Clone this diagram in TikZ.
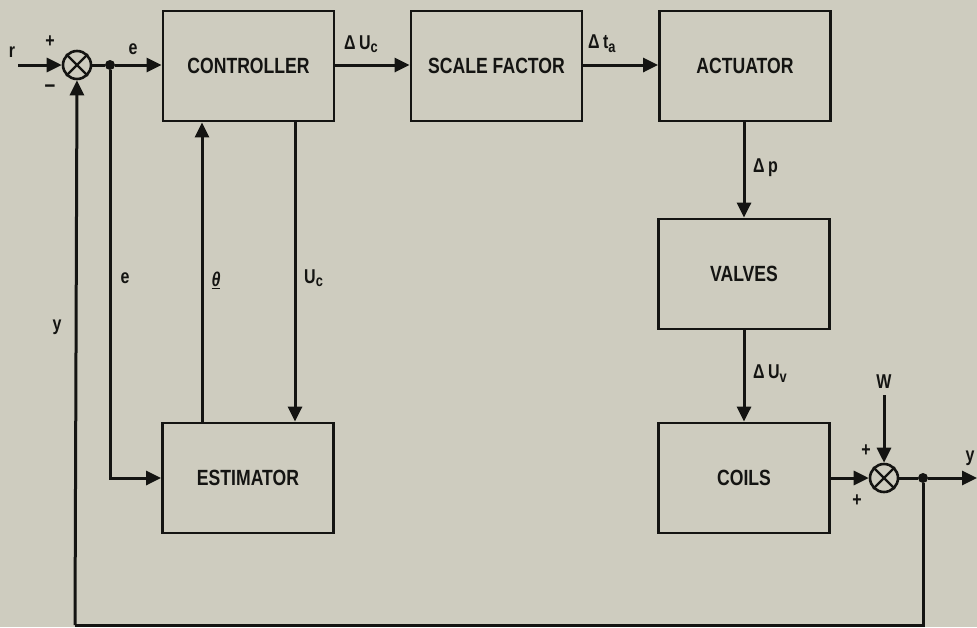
\documentclass[tikz,border=0pt]{standalone}
\usepackage{fontspec}
\setmainfont{Liberation Sans}[FakeStretch=0.8]
\usetikzlibrary{arrows.meta}
\definecolor{paper}{RGB}{206,204,191}
\definecolor{ink}{RGB}{20,20,18}
\tikzset{
  blk/.style={draw=ink, line width=2.8pt, minimum width=171pt, minimum height=110pt, inner sep=0pt, font=\fontsize{22}{24}\selectfont\bfseries, text=ink},
  sumj/.style={draw=ink, line width=2.6pt, circle, minimum size=28pt, inner sep=0pt},
  wire/.style={draw=ink, line width=3pt},
  arr/.style={wire, -{Triangle[length=15pt,width=14pt]}},
  lbl/.style={font=\fontsize{20}{22}\selectfont\bfseries, text=ink, inner sep=0pt},
  dot/.style={circle, fill=ink, minimum size=10pt, inner sep=0pt}
}
\begin{document}
\begin{tikzpicture}[x=1pt,y=-1pt]
\fill[paper] (0,0) rectangle (977,627);
\useasboundingbox (0,0) rectangle (977,627);
% blocks
\node[blk] (ctrl) at (248.5,66) {CONTROLLER};
\node[blk] (scale) at (496.5,66) {SCALE FACTOR};
\node[blk] (act) at (745,66) {ACTUATOR};
\node[blk] (valv) at (744,274) {VALVES};
\node[blk] (coil) at (744,478) {COILS};
\node[blk] (est) at (248,478) {ESTIMATOR};
% summing junctions
\node[sumj] (s1) at (77,65) {};
\draw[ink, line width=2.4pt] (s1.north west) -- (s1.south east) (s1.north east) -- (s1.south west);
\node[sumj] (s2) at (884,478) {};
\draw[ink, line width=2.4pt] (s2.north west) -- (s2.south east) (s2.north east) -- (s2.south west);
% coordinates
\coordinate (rin) at (18,65);
\node[dot] (d1) at (110,65) {};
\node[dot] (d2) at (923,478) {};
\coordinate (yout) at (977,478);
\coordinate (win) at (884,395);
\coordinate (bl) at (75,625);
\coordinate (br) at (923,625);
\coordinate (ee) at (110,478);
% connectors
\draw[arr] (rin) -- (s1.west);
\draw[wire] (s1.east) -- (d1);
\draw[arr] (d1) -- (ctrl.west |- d1);
\draw[arr] (ctrl.east |- 0,65) -- (scale.west |- 0,65);
\draw[arr] (scale.east |- 0,65) -- (act.west |- 0,65);
\draw[arr] (act.south -| 744,0) -- (valv.north);
\draw[arr] (valv.south) -- (coil.north);
\draw[arr] (coil.east) -- (s2.west);
\draw[arr] (win) -- (s2.north);
\draw[wire] (s2.east) -- (d2);
\draw[arr] (d2) -- (yout);
\draw[wire] (d2) -- (br) -- (bl);
\draw[arr] (bl) -- (s1.south);
\draw[arr] (d1) -- (ee) -- (est.west);
\draw[arr] (est.north -| 202,0) -- (ctrl.south -| 202,0);
\draw[arr] (ctrl.south -| 295,0) -- (est.north -| 295,0);
% labels
\node[lbl] (lr) at (12,52) {r};
\node[lbl] (lp1) at (50,42) {+};
\node[lbl] (lm1) at (50,89) {\fontsize{24}{24}\selectfont –};
\node[lbl] (le1) at (133,49) {e};
\node[lbl, anchor=west] (ldu) at (344,44) {Δ\,U\raisebox{-3pt}{\fontsize{16}{16}\selectfont c}};
\node[lbl, anchor=west] (ldt) at (588,44) {Δ\,t\raisebox{-4pt}{\fontsize{16}{16}\selectfont a}};
\node[lbl, anchor=west] (ldp) at (753,168) {Δ\,p};
\node[lbl, anchor=west] (ldv) at (753,374) {Δ\,U\raisebox{-4pt}{\fontsize{16}{16}\selectfont v}};
\node[lbl] (lw) at (884,382) {W};
\node[lbl] (lp2) at (866,451) {+};
\node[lbl] (lp3) at (857,501) {+};
\node[lbl] (le2) at (125,278) {e};
\node[lbl] (lth) at (216,280) {\underline{\itshape θ}};
\node[lbl, anchor=west] (luc) at (304,278) {U\raisebox{-3pt}{\fontsize{16}{16}\selectfont c}};
\node[lbl] (ly) at (57,327) {y};
\node[lbl] (ly2) at (970,458) {y};
\end{tikzpicture}
\end{document}
